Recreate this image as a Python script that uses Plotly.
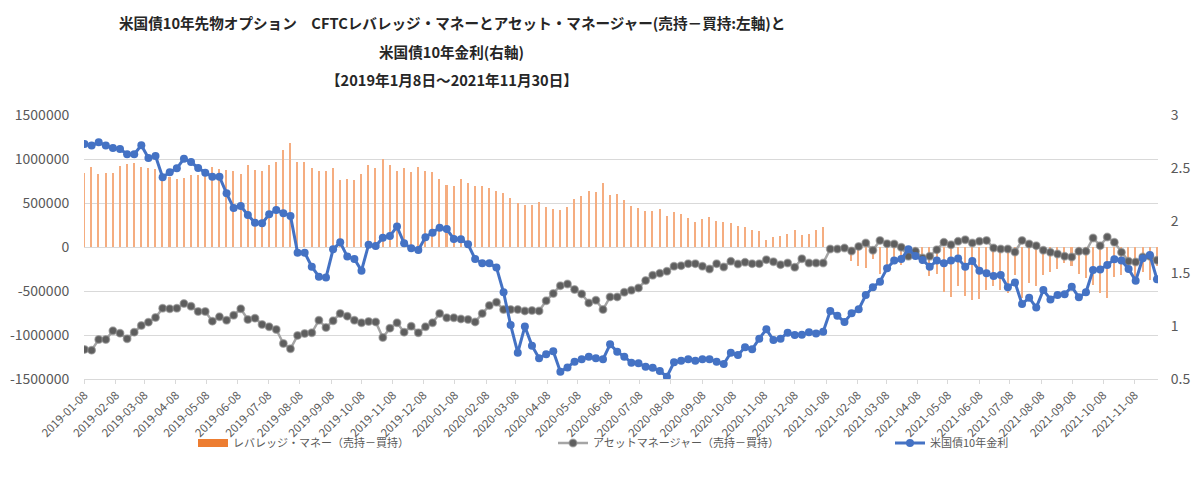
import pandas as pd
import plotly.graph_objects as go

# Weekly CFTC report dates (Tuesdays)
dates = pd.date_range("2019-01-08", "2021-11-30", freq="7D")

# Leveraged money (short - long), left axis
leveraged = [
    839000, 914000, 827000, 846000, 839000, 926000, 944000, 960000, 914000, 903000,
    888000, 790000, 801000, 774000, 782000, 820000, 816000, 846000, 914000, 884000,
    876000, 865000, 827000, 933000, 873000, 865000,
    933000, 971000, 1103000, 1179000, 971000, 963000, 895000, 865000, 869000, 895000,
    763000, 771000, 763000, 827000, 933000, 903000, 997000, 933000, 865000, 895000,
    854000, 914000, 865000, 858000, 774000,
    706000, 688000, 771000, 725000, 695000, 688000, 665000, 642000, 612000, 555000,
    499000, 476000, 476000, 510000, 453000, 434000, 423000, 453000, 544000, 585000,
    642000, 627000, 725000, 593000, 601000,
    536000, 468000, 442000, 412000, 412000, 431000, 355000, 397000, 378000, 329000,
    279000, 317000, 340000, 298000, 279000, 276000, 242000, 223000, 196000, 177000,
    83000, 113000, 128000, 147000, 196000, 136000,
    151000, 196000, 223000, -20000, -30000, -40000, -163000, -219000, -238000, -136000,
    -303000, -219000, -182000, -201000, -125000, -125000, -189000, -325000, -303000, -514000,
    -571000, -446000, -552000, -605000, -590000,
    -484000, -446000, -484000, -522000, -314000, -578000, -408000, -446000, -314000, -287000,
    -250000, -182000, -219000, -303000, -352000, -427000, -522000, -578000, -344000, -314000,
    -276000, -408000, -287000, -378000, -219000,
]

# Asset manager (short - long), left axis
asset_manager = [
    -1164000, -1172000, -1051000, -1051000, -953000, -979000, -1043000, -968000, -892000, -854000,
    -801000, -696000, -703000, -696000, -643000, -673000, -733000, -733000, -843000, -794000,
    -832000, -775000, -703000, -824000, -809000, -881000,
    -907000, -937000, -1096000, -1157000, -1005000, -983000, -975000, -832000, -915000, -839000,
    -756000, -786000, -832000, -862000, -847000, -851000, -1028000, -922000, -862000, -968000,
    -900000, -975000, -907000, -862000, -756000,
    -805000, -805000, -817000, -824000, -851000, -756000, -665000, -628000, -711000, -711000,
    -711000, -726000, -722000, -726000, -612000, -529000, -439000, -420000, -484000, -533000,
    -635000, -605000, -711000, -567000, -567000,
    -514000, -492000, -465000, -382000, -321000, -299000, -276000, -219000, -212000, -189000,
    -189000, -219000, -250000, -189000, -227000, -163000, -193000, -174000, -189000, -189000,
    -144000, -167000, -201000, -182000, -231000, -133000,
    -182000, -182000, -182000, -23000, -23000, -12000, -46000, 7000, 45000, -38000,
    75000, 38000, 34000, -4000, -106000, -49000, -125000, -106000, -30000, 53000,
    26000, 64000, 83000, 45000, 64000,
    75000, -12000, -23000, -23000, -57000, 75000, 34000, 15000, -38000, -61000,
    -80000, -106000, -114000, -49000, -49000, 102000, 15000, 113000, 53000, -61000,
    -163000, -170000, -114000, -106000, -151000,
]

# US 10-year yield (%), right axis
ust10y = [
    2.725, 2.710, 2.741, 2.710, 2.688, 2.678, 2.628, 2.628, 2.713, 2.593,
    2.612, 2.410, 2.457, 2.495, 2.586, 2.555, 2.498, 2.454, 2.416, 2.416,
    2.258, 2.119, 2.138, 2.053, 1.980, 1.974,
    2.059, 2.100, 2.069, 2.044, 1.696, 1.696, 1.564, 1.469, 1.460, 1.728,
    1.794, 1.659, 1.636, 1.526, 1.772, 1.759, 1.838, 1.854, 1.943, 1.785,
    1.737, 1.722, 1.842, 1.886, 1.933,
    1.920, 1.826, 1.823, 1.775, 1.636, 1.595, 1.595, 1.557, 1.321, 1.011,
    0.749, 0.996, 0.816, 0.696, 0.734, 0.762, 0.569, 0.610, 0.664, 0.686,
    0.711, 0.696, 0.686, 0.828, 0.759,
    0.711, 0.655, 0.648, 0.617, 0.607, 0.576, 0.522, 0.658, 0.674, 0.686,
    0.674, 0.686, 0.686, 0.664, 0.642, 0.749, 0.727, 0.800, 0.781, 0.882,
    0.970, 0.869, 0.882, 0.939, 0.917, 0.920,
    0.942, 0.932, 0.948, 1.144, 1.100, 1.040, 1.122, 1.160, 1.295, 1.368,
    1.422, 1.548, 1.621, 1.636, 1.728, 1.665, 1.627, 1.564, 1.621, 1.595,
    1.621, 1.640, 1.564, 1.617, 1.526,
    1.501, 1.476, 1.485, 1.368, 1.415, 1.210, 1.270, 1.176, 1.343, 1.254,
    1.295, 1.302, 1.374, 1.273, 1.321, 1.532, 1.538, 1.580, 1.633, 1.621,
    1.542, 1.431, 1.643, 1.674, 1.444,
]

left_ticks = [-1500000, -1000000, -500000, 0, 500000, 1000000, 1500000]
left_labels = ["-1500000", "-1000000", "-500000", "0", "500000", "1000000", "1500000"]
right_ticks = [0.5, 1, 1.5, 2, 2.5, 3]
right_labels = ["0.5", "1", "1.5", "2", "2.5", "3"]

series_names = [
    "レバレッジ・マネー（売持－買持）",
    "アセットマネージャー（売持－買持）",
    "米国債10年金利",
]
title_lines = [
    "米国債10年先物オプション　CFTCレバレッジ・マネーとアセット・マネージャー(売持－買持:左軸)と",
    "米国債10年金利(右軸)",
    "【2019年1月8日～2021年11月30日】",
]

FONT = "Noto Sans CJK JP"
GRID = "#D9D9D9"
TICK = "#595959"
ORANGE = "#ED7D31"

# The page body has an 8px margin; figure is sized so that it fits the window.
W, H = 1192, 489

fig = go.Figure()
fig.add_trace(go.Bar(
    x=dates, y=leveraged, name=series_names[0], showlegend=False,
    marker=dict(color="#F5AD80", line=dict(width=0)),
    width=1.5 * 86400000,
))
# legend-only swatch for the bar series (wide rectangle like the original)
fig.add_trace(go.Scatter(
    x=[None], y=[None], name=series_names[0], mode="lines", legend="legend",
    line=dict(color=ORANGE, width=8), hoverinfo="skip",
))
fig.add_trace(go.Scatter(
    x=dates, y=asset_manager, name=series_names[1], mode="lines+markers", legend="legend2",
    line=dict(color="#A5A5A5", width=2.5),
    marker=dict(color="#5E5E5E", size=7.5, line=dict(color="rgba(140,140,140,0.6)", width=1.5)),
))
fig.add_trace(go.Scatter(
    x=dates, y=ust10y, name=series_names[2], mode="lines+markers", yaxis="y2", legend="legend3",
    line=dict(color="#4472C4", width=3),
    marker=dict(color="#4472C4", size=8),
))

annotations = []
title_y = [1.352, 1.239, 1.133]
for txt, yy in zip(title_lines, title_y):
    annotations.append(dict(
        text="<b>" + txt + "</b>", xref="paper", yref="paper",
        x=0.3426, y=yy, xanchor="center", yanchor="middle", showarrow=False,
        font=dict(family=FONT, size=14.6, color="#262626"),
    ))


def leg(xpx):
    return dict(
        orientation="h", xref="container", yref="container",
        x=xpx / W, y=1 - 435 / H, xanchor="left", yanchor="middle",
        font=dict(family=FONT, size=11, color=TICK),
        bgcolor="rgba(0,0,0,0)",
    )


fig.update_layout(
    width=W, height=H,
    margin=dict(l=76, r=42, t=107, b=118, autoexpand=False),
    paper_bgcolor="white", plot_bgcolor="white",
    font=dict(family=FONT, color=TICK, size=13),
    showlegend=True,
    legend=leg(185), legend2=leg(545), legend3=leg(882),
    bargap=0,
    annotations=annotations,
    xaxis=dict(
        type="date", automargin=False,
        range=["2019-01-07 12:00", "2021-12-01 00:00"],
        tick0="2019-01-08", dtick="M1", tickformat="%Y-%m-%d",
        tickangle=-45, tickfont=dict(family=FONT, size=11.5, color=TICK),
        showgrid=False, showline=True, linecolor=GRID, linewidth=1,
        ticks="outside", ticklen=4, tickcolor=GRID,
        zeroline=False,
    ),
    yaxis=dict(
        automargin=False,
        range=[-1500000, 1500000], tickvals=left_ticks, ticktext=left_labels,
        showgrid=True, gridcolor=GRID, gridwidth=1,
        zeroline=True, zerolinecolor=GRID, zerolinewidth=1,
        tickfont=dict(family=FONT, size=14, color=TICK),
        ticks="outside", ticklen=11, tickcolor="rgba(0,0,0,0)", showline=False,
    ),
    yaxis2=dict(
        automargin=False,
        overlaying="y", side="right",
        range=[0.5, 3], tickvals=right_ticks, ticktext=right_labels,
        showgrid=False, zeroline=False, showline=False,
        tickfont=dict(family=FONT, size=14, color=TICK),
        ticks="outside", ticklen=9, tickcolor="rgba(0,0,0,0)",
    ),
)

fig.write_html("out.html")
